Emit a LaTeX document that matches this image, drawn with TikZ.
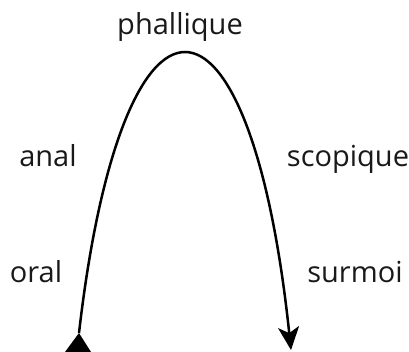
\documentclass[tikz,border=0pt]{standalone}
\usepackage{fontspec}
\setmainfont{Open Sans}
\usetikzlibrary{arrows.meta}
\begin{document}
\begin{tikzpicture}[x=1pt,y=-1pt,
  lbl/.style={anchor=base,inner sep=0pt,font=\fontsize{29}{31}\selectfont,text=black!90},
  curve/.style={line width=2.5pt,-{Stealth[length=23pt,width=21pt,inset=6pt]}}]
\useasboundingbox (0,0) rectangle (409,351);
\node[lbl] (phallique) at (180,34) {phallique};
\node[lbl] (anal) at (48,166) {anal};
\node[lbl] (scopique) at (348,166) {scopique};
\node[lbl] (oral) at (36,282) {oral};
\node[lbl] (surmoi) at (355,282) {surmoi};
\coordinate (start) at (79,333);
\coordinate (peak) at (185,52);
\coordinate (end) at (291,350);
\fill (start) -- (65,352) -- (91,352) -- cycle;
\draw[curve] (start) .. controls (100,150) and (142,52) .. (peak)
  .. controls (228,52) and (270,150) .. (end);
\end{tikzpicture}
\end{document}
